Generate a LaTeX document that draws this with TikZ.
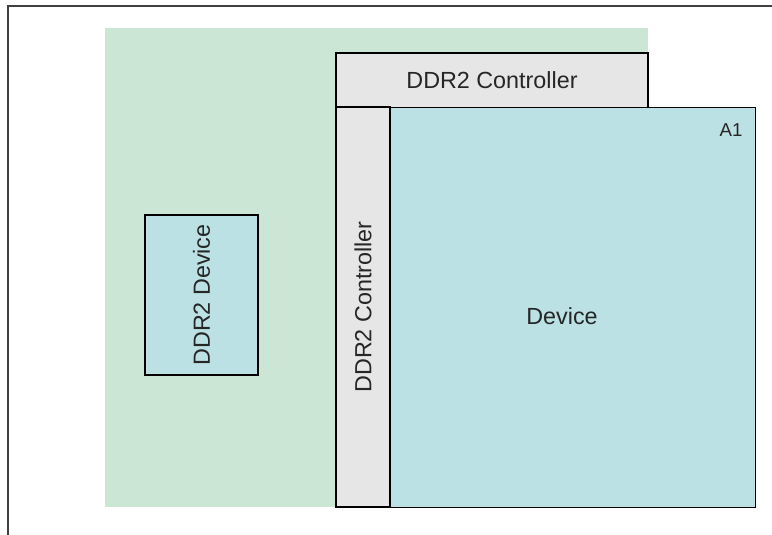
\documentclass[tikz,border=0pt]{standalone}
\usepackage{fontspec}
\setmainfont{Liberation Sans}

\definecolor{boardgreen}{RGB}{203,230,213}
\definecolor{devblue}{RGB}{187,225,228}
\definecolor{ctrlgray}{RGB}{230,230,230}
\definecolor{labelgray}{RGB}{38,38,38}

\begin{document}
\begin{tikzpicture}
[
	x=0.75pt, y=-0.75pt,
	box/.style={rectangle,draw=black,line width=1pt,inner sep=0pt},
	txt/.style={text=labelgray,font=\fontsize{17.5}{20}\selectfont,inner sep=0pt},
	frameline/.style={draw=black!75,line width=1.5pt}
]

	\useasboundingbox (0,0) rectangle (772,535);

	% outer frame
	\coordinate (frametop) at (772,6);
	\coordinate (framecorner) at (8,6);
	\coordinate (framebottom) at (8,535);
	\draw[frameline] (frametop) -- (framecorner) -- (framebottom);

	% board
	\node[rectangle,fill=boardgreen,inner sep=0pt,anchor=north west,
		minimum width=407.25pt,minimum height=359.25pt] (board) at (105,28) {};

	% controllers
	\node[box,fill=ctrlgray,txt,minimum width=234pt,minimum height=41.25pt] (ctrltop) at (492,80.5) {DDR2 Controller};
	\node[box,fill=devblue,anchor=north west,minimum width=273.75pt,minimum height=300pt] (device) at (390,107) {};
	\node[box,fill=ctrlgray,txt,rotate=90,minimum width=300pt,minimum height=40.5pt] (ctrlside) at (363,307) {DDR2 Controller};

	% devices
	\node[txt] (devlabel) at (562,316) {Device};
	\node[txt,font=\fontsize{14}{16}\selectfont] (a1) at (731,130) {A1};
	\node[box,fill=devblue,txt,rotate=90,
		minimum width=120pt,minimum height=84.75pt] (ddrdevice) at (201.5,295) {DDR2 Device};

\end{tikzpicture}
\end{document}
